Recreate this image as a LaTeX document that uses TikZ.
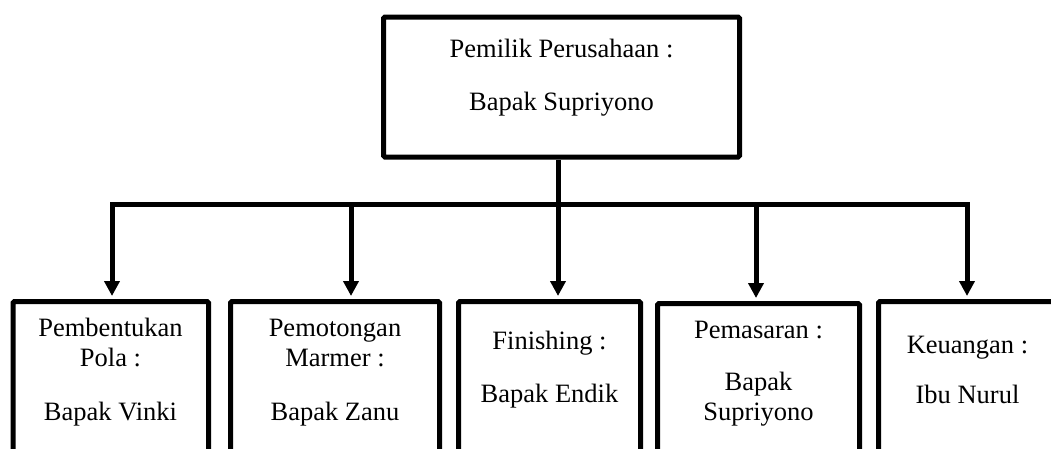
\documentclass[tikz,border=0pt]{standalone}
\usepackage{fontspec}
\setmainfont{Liberation Serif}
\usetikzlibrary{arrows.meta}
\begin{document}
\begin{tikzpicture}[x=1pt,y=-1pt,
  box/.style={draw=black, line width=5pt, rectangle, anchor=north, inner sep=0pt, rounded corners=1.5pt},
  lbl/.style={anchor=base, inner sep=0pt, font=\fontsize{26.5}{30}\selectfont},
  conn/.style={draw=black, line width=5pt},
  arr/.style={conn, -{Triangle[length=15pt,width=15pt]}, shorten >=3pt}]
\useasboundingbox (0,0) rectangle (1051,448);
\clip (0,0) rectangle (1051,448);
% boxes
\node[box, minimum width=356pt, minimum height=140pt] (top) at (561.5,14.5) {};
\node[box, minimum width=195.5pt, minimum height=200pt] (b1) at (110.75,299) {};
\node[box, minimum width=209pt, minimum height=200pt] (b2) at (335,299) {};
\node[box, minimum width=182pt, minimum height=200pt] (b3) at (549.5,299) {};
\node[box, minimum width=202pt, minimum height=200pt] (b4) at (758.5,301) {};
\node[box, minimum width=178pt, minimum height=200pt] (b5) at (967.5,299) {};
% texts
\node[lbl] (t1) at (561.5,57) {Pemilik Perusahaan :};
\node[lbl] (t2) at (561.5,110) {Bapak Supriyono};
\node[lbl] (p1) at (110.5,336) {Pembentukan};
\node[lbl] (p2) at (110.5,366) {Pola :};
\node[lbl] (p3) at (110.5,420) {Bapak Vinki};
\node[lbl] (m1) at (335,336) {Pemotongan};
\node[lbl] (m2) at (335,366) {Marmer :};
\node[lbl] (m3) at (335,420) {Bapak Zanu};
\node[lbl] (f1) at (549.5,349) {Finishing :};
\node[lbl] (f2) at (549.5,402) {Bapak Endik};
\node[lbl] (s1) at (758.5,338) {Pemasaran :};
\node[lbl] (s2) at (758.5,390) {Bapak};
\node[lbl] (s3) at (758.5,420) {Supriyono};
\node[lbl] (k1) at (967.5,353) {Keuangan :};
\node[lbl] (k2) at (967.5,403) {Ibu Nurul};
% connectors
\coordinate (j) at (558,204.5);
\coordinate (a1) at (112,204.5);
\coordinate (a2) at (351,204.5);
\coordinate (a4) at (756,204.5);
\coordinate (a5) at (967,204.5);
\draw[conn] (top.south -| j) -- (j);
\draw[conn, line join=miter, {Triangle[length=15pt,width=15pt]}-{Triangle[length=15pt,width=15pt]}, shorten <=3pt, shorten >=3pt]
  (b1.north -| a1) -- (a1) -- (a5) -- (b5.north -| a5);
\draw[arr] (a2) -- (b2.north -| a2);
\draw[arr] (j) -- (b3.north -| j);
\draw[arr] (a4) -- (b4.north -| a4);
\end{tikzpicture}
\end{document}
